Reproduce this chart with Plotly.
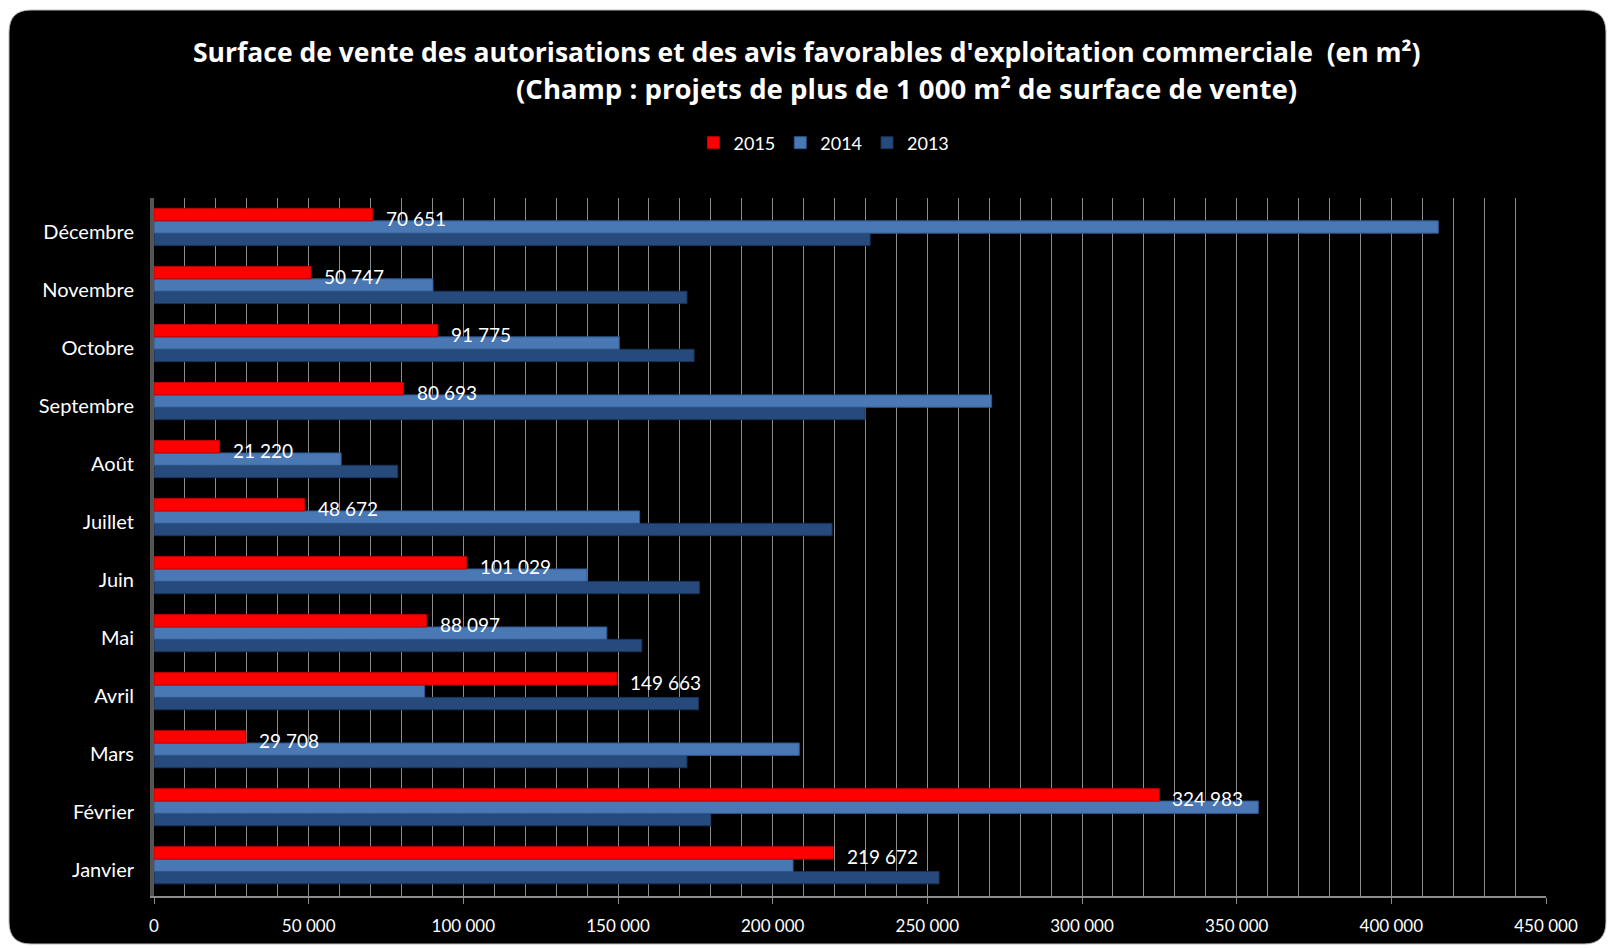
import plotly.graph_objects as go

months = ["Janvier", "Février", "Mars", "Avril", "Mai", "Juin", "Juillet",
          "Août", "Septembre", "Octobre", "Novembre", "Décembre"]
v2015 = [219672, 324983, 29708, 149663, 88097, 101029, 48672,
         21220, 80693, 91775, 50747, 70651]
v2014 = [206600, 357000, 208600, 87500, 146400, 140000, 157000,
         60500, 270800, 150400, 90200, 415200]
v2013 = [253800, 180000, 172300, 176000, 157700, 176300, 219200,
         78800, 229900, 174600, 172300, 231500]
x_ticks = [0, 50000, 100000, 150000, 200000, 250000, 300000, 350000, 400000, 450000]
x_tick_labels = ["0", "50 000", "100 000", "150 000", "200 000", "250 000",
                 "300 000", "350 000", "400 000", "450 000"]

FONT = "Lato"
TFONT = "Open Sans"
W, H = 1612, 948
ML, MR, MT, MB = 154, 66, 198, 52
PW, PH = W - ML - MR, H - MT - MB


def fmt(v):
    return f"{v:,}".replace(",", " ")


fig = go.Figure()
fig.add_trace(go.Bar(name="2013", y=months, x=v2013, orientation="h",
                     marker=dict(color="#264a7c", line=dict(color="#1a3356", width=1))))
fig.add_trace(go.Bar(name="2014", y=months, x=v2014, orientation="h",
                     marker=dict(color="#4a78b4", line=dict(color="#2f578c", width=1))))
fig.add_trace(go.Bar(name="2015", y=months, x=v2015, orientation="h",
                     marker=dict(color="#ff0000", line=dict(color="#c00000", width=1))))

annotations = []
for m, v in zip(months, v2015):
    annotations.append(dict(x=v, y=m, xref="x", yref="y", text=fmt(v),
                            showarrow=False, xanchor="left", yanchor="middle",
                            xshift=11, yshift=9,
                            font=dict(family=FONT, size=19, color="white")))


def px_to_paper(px, py):
    return (px - ML) / PW, (H - MB - py) / PH


tx, ty = px_to_paper(807, 52)
annotations.append(dict(x=tx, y=ty, xref="paper", yref="paper", xanchor="center", yanchor="middle",
                        text="<b>Surface de vente des autorisations et des avis favorables d'exploitation commerciale  (en m²)</b>",
                        showarrow=False, font=dict(family=TFONT, size=26.5, color="white")))
tx, ty = px_to_paper(906, 88)
annotations.append(dict(x=tx, y=ty, xref="paper", yref="paper", xanchor="center", yanchor="middle",
                        text="<b>(Champ : projets de plus de 1 000 m² de surface de vente)</b>",
                        showarrow=False, font=dict(family=TFONT, size=27.6, color="white")))

# rounded black background
x0, y0, x1, y1, r = 9, 10, 1606, 944, 22


def P(px, py):
    x, y = px_to_paper(px, py)
    return f"{x:.5f},{y:.5f}"


path_str = (f"M {P(x0 + r, y0)} L {P(x1 - r, y0)} Q {P(x1, y0)} {P(x1, y0 + r)} "
            f"L {P(x1, y1 - r)} Q {P(x1, y1)} {P(x1 - r, y1)} "
            f"L {P(x0 + r, y1)} Q {P(x0, y1)} {P(x0, y1 - r)} "
            f"L {P(x0, y0 + r)} Q {P(x0, y0)} {P(x0 + r, y0)} Z")

lx, ly = px_to_paper(824, 143)
fig.update_layout(
    width=W, height=H,
    margin=dict(l=ML, r=MR, t=MT, b=MB),
    paper_bgcolor="white", plot_bgcolor="rgba(0,0,0,0)",
    barmode="group", bargap=0.36, bargroupgap=0.0,
    font=dict(family=FONT, color="white", size=17),
    showlegend=True,
    legend=dict(orientation="h", traceorder="reversed", x=lx, y=ly,
                xanchor="center", yanchor="middle", font=dict(family=FONT, size=18, color="white"),
                bgcolor="rgba(0,0,0,0)", itemwidth=30),
    annotations=annotations,
    shapes=[dict(type="path", path=path_str, xref="paper", yref="paper",
                 fillcolor="black", line=dict(color="#bbbbbb", width=1), layer="below")],
    xaxis=dict(range=[0, 450000], tickvals=x_ticks, ticktext=x_tick_labels,
               showgrid=True, gridcolor="#8c8c8c", gridwidth=1,
               minor=dict(dtick=10000, showgrid=True, gridcolor="#8c8c8c", gridwidth=1),
               showline=True, linecolor="#8c8c8c", linewidth=2,
               ticks="outside", ticklen=6, tickcolor="#8c8c8c",
               ticklabelstandoff=8,
               zeroline=False,
               tickfont=dict(family=FONT, size=17, color="white")),
    yaxis=dict(categoryorder="array", categoryarray=months, range=[-0.53, 11.5],
               showgrid=False, showline=True, linecolor="#555555", linewidth=4,
               ticks="outside", ticklen=12, tickcolor="rgba(0,0,0,0)",
               ticklabelshift=5,
               tickfont=dict(family=FONT, size=20, color="white")),
)

fig.write_html("out.html", post_script="document.body.style.margin='0';",
               config={"displayModeBar": False})
